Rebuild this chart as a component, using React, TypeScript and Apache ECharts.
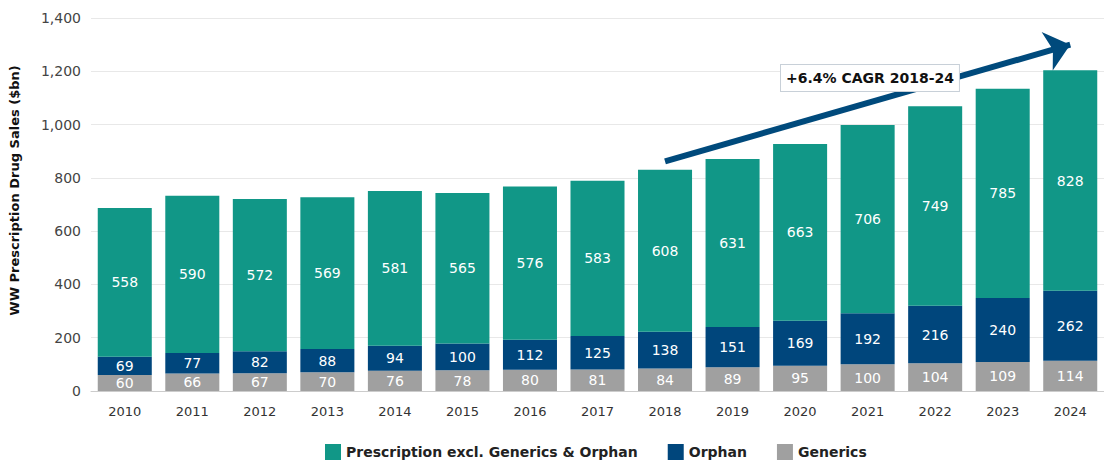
import React, { useEffect, useRef } from "react";
import * as echarts from "echarts";

const years = ["2010", "2011", "2012", "2013", "2014", "2015", "2016", "2017", "2018", "2019", "2020", "2021", "2022", "2023", "2024"];
const generics = [60, 66, 67, 70, 76, 78, 80, 81, 84, 89, 95, 100, 104, 109, 114];
const orphan = [69, 77, 82, 88, 94, 100, 112, 125, 138, 151, 169, 192, 216, 240, 262];
const prescription = [558, 590, 572, 569, 581, 565, 576, 583, 608, 631, 663, 706, 749, 785, 828];
const arrowFrom: [string, number] = ["2018", 862];
const arrowTo: [string, number] = ["2024", 1300];
const cagrText = "+6.4% CAGR 2018-24";

const FONT = "DejaVu Sans";

export default function App() {
  const ref = useRef<HTMLDivElement>(null);
  useEffect(() => {
    if (!ref.current) return;
    const chart = echarts.init(ref.current, null, { renderer: "svg" });
    const lbl = { show: true, position: "inside", color: "#ffffff", fontSize: 14, fontFamily: FONT };
    chart.setOption({
      animation: false,
      textStyle: { fontFamily: FONT },
      grid: { left: 89, right: 0, top: 18, bottom: 70 },
      legend: {
        top: 439,
        left: 320,
        itemWidth: 16,
        itemHeight: 16,
        itemGap: 30,
        icon: "rect",
        textStyle: { fontFamily: FONT, fontWeight: "bold", fontSize: 14, color: "#222" },
        data: ["Prescription excl. Generics & Orphan", "Orphan", "Generics"],
      },
      xAxis: {
        type: "category",
        data: years,
        axisLine: { show: true, lineStyle: { color: "#cccccc" } },
        axisTick: { show: false },
        axisLabel: { color: "#333", fontSize: 13, margin: 14, fontFamily: FONT },
      },
      yAxis: {
        type: "value",
        min: 0,
        max: 1400,
        interval: 200,
        name: "WW Prescription Drug Sales ($bn)",
        nameLocation: "middle",
        nameGap: 70,
        nameTextStyle: { fontWeight: "bold", fontSize: 13, color: "#111", fontFamily: FONT, padding: [0, 0, 0, 28] },
        axisLine: { show: false },
        axisTick: { show: false },
        splitLine: { lineStyle: { color: "#e8e8e8" } },
        axisLabel: {
          color: "#444",
          fontSize: 14,
          margin: 10,
          fontFamily: FONT,
          formatter: (v: number) => v.toLocaleString("en-US"),
        },
      },
      series: [
        {
          name: "Generics",
          type: "bar",
          stack: "t",
          barCategoryGap: "20%",
          data: generics,
          itemStyle: { color: "#a0a0a0" },
          label: lbl,
        },
        {
          name: "Orphan",
          type: "bar",
          stack: "t",
          data: orphan,
          itemStyle: { color: "#00467c" },
          label: lbl,
        },
        {
          name: "Prescription excl. Generics & Orphan",
          type: "bar",
          stack: "t",
          data: prescription,
          itemStyle: { color: "#119787" },
          label: lbl,
          markLine: {
            silent: true,
            symbol: ["none", "arrow"],
            symbolSize: [30, 24],
            lineStyle: { color: "#004a7c", width: 6, type: "solid" },
            label: { show: false },
            data: [[{ coord: arrowFrom }, { coord: arrowTo }]],
          },
        },
      ],
      graphic: [
        {
          type: "text",
          left: 780,
          top: 64,
          z: 100,
          style: {
            text: cagrText,
            fontFamily: FONT,
            fontWeight: "bold",
            fontSize: 14,
            fill: "#111",
            backgroundColor: "#ffffff",
            borderColor: "#c8d0d8",
            borderWidth: 1,
            padding: [6, 5, 6, 5],
          },
        },
      ],
    });
    return () => chart.dispose();
  }, []);
  return <div ref={ref} style={{ width: 1104, height: 461, position: "absolute", left: 0, top: 0 }} />;
}
